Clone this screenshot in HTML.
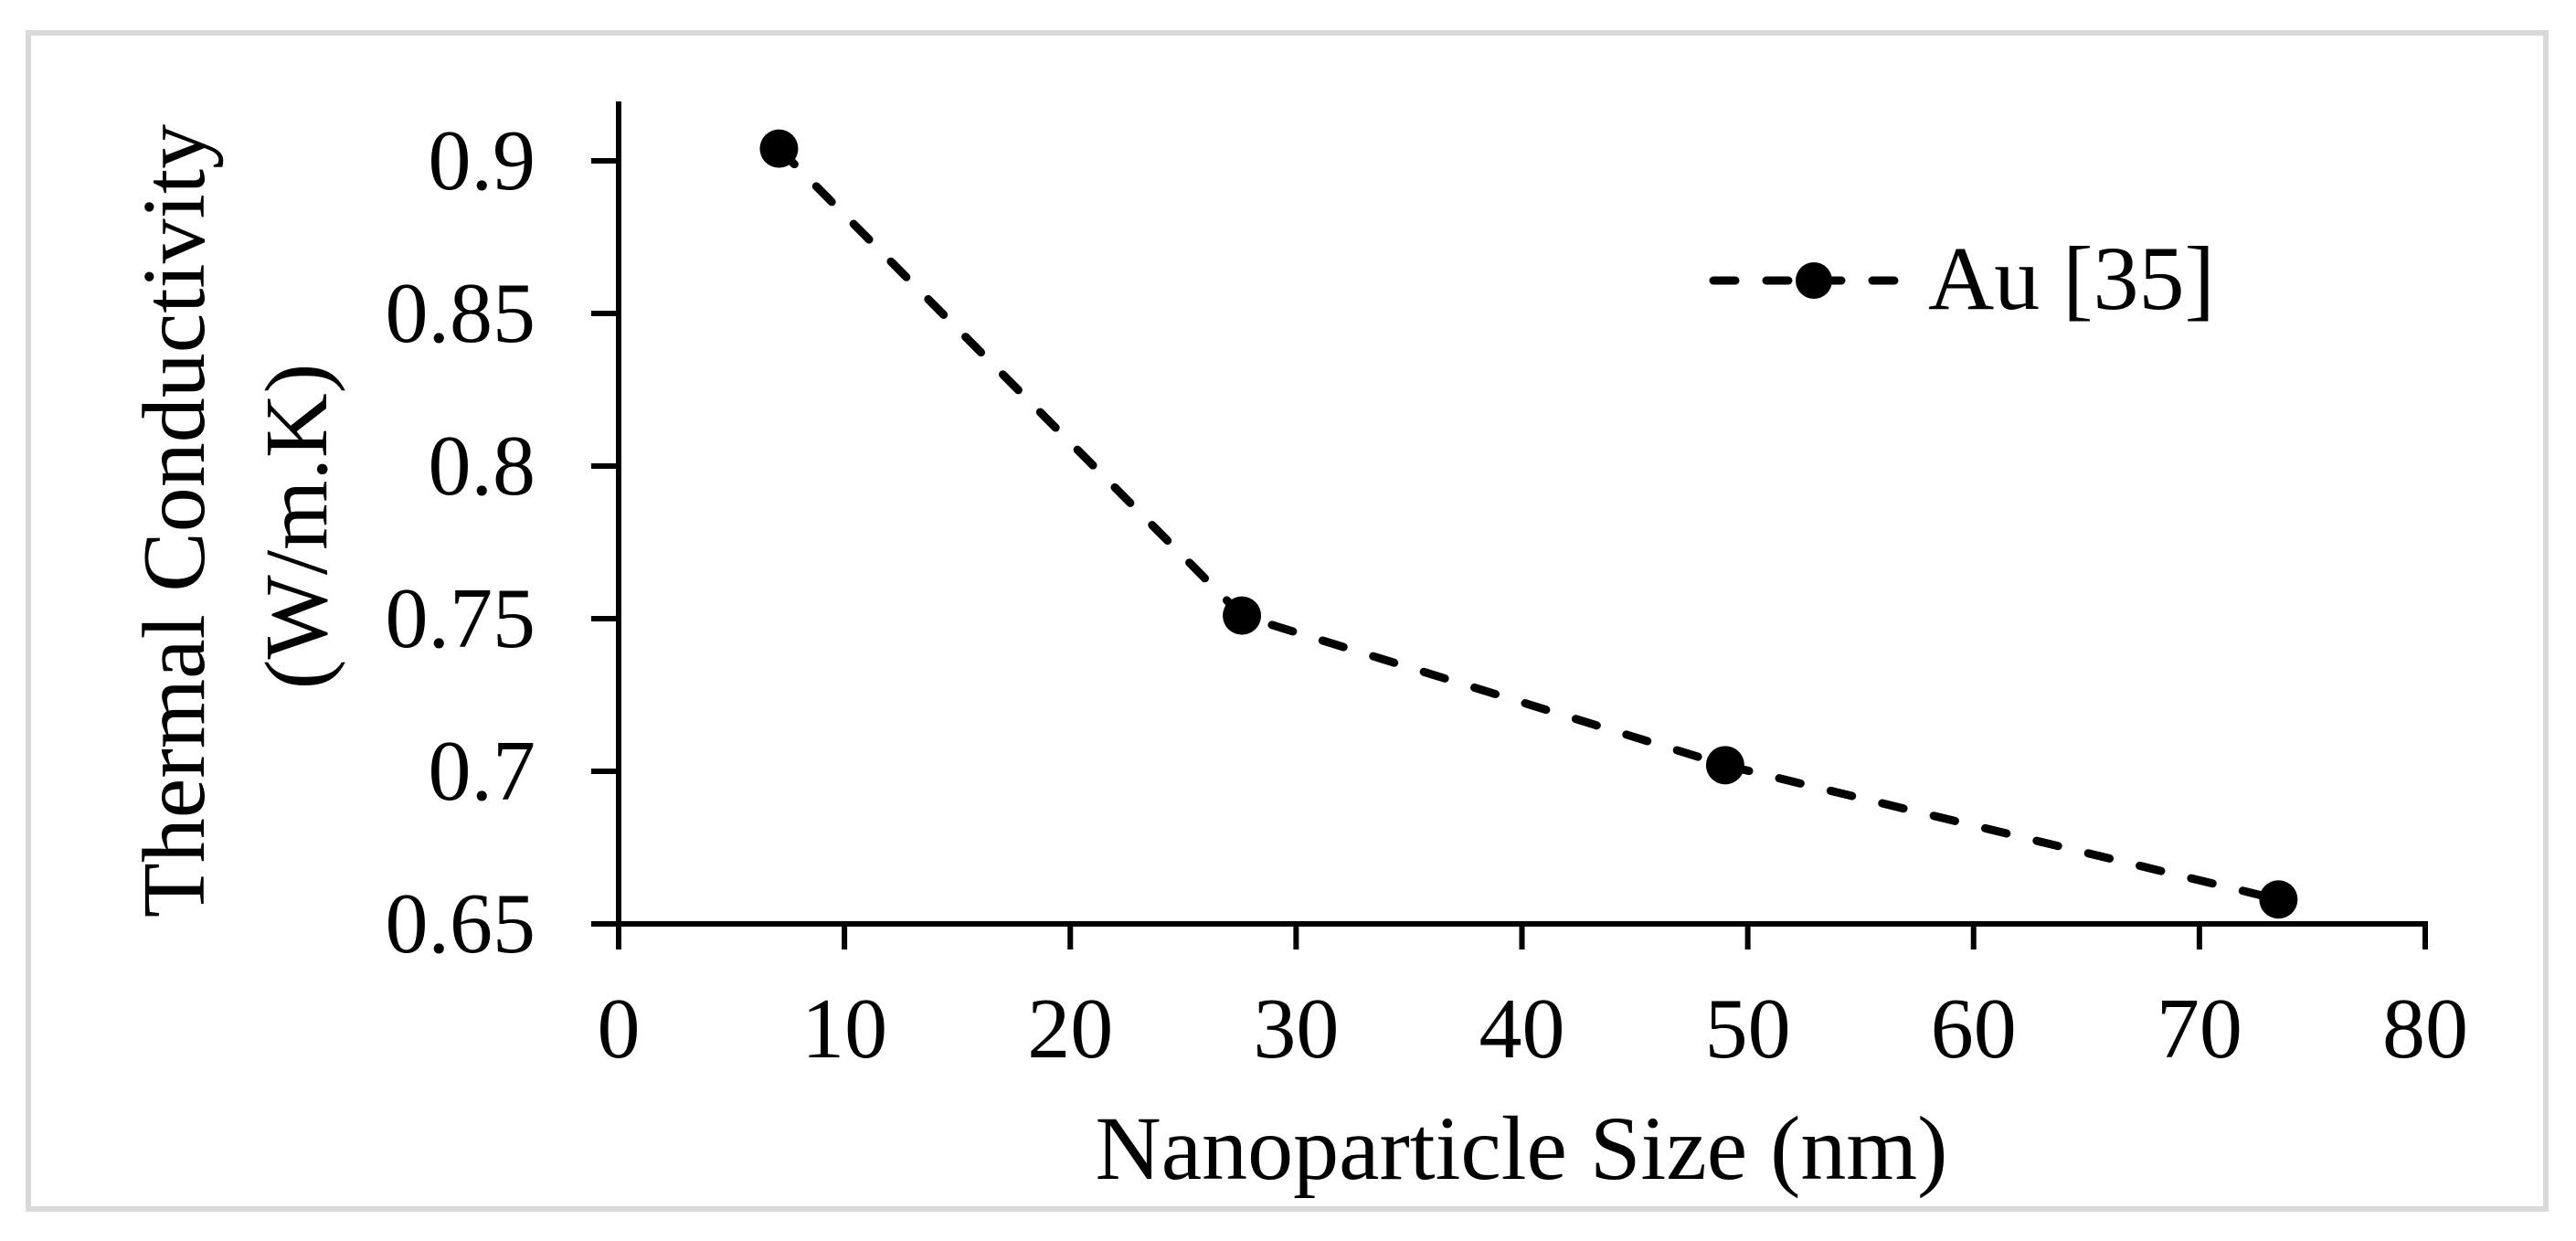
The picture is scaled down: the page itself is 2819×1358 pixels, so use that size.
<!DOCTYPE html>
<html><head><meta charset="utf-8"><style>
html,body{margin:0;padding:0;background:#fff;}
svg{display:block;font-family:"Liberation Serif",serif;}
</style></head><body>
<svg id="chart" width="2819" height="1358" viewBox="0 0 2819 1358">
<rect x="31" y="36" width="2755" height="1287" fill="#fff" stroke="#d9d9d9" stroke-width="6"/>
<g id="axes"></g>
<g id="series"></g>
<text x="191" y="570" transform="rotate(-90 191 570)" text-anchor="middle" dominant-baseline="central" font-size="98">Thermal Conductivity</text>
<text x="325" y="576" transform="rotate(-90 325 576)" text-anchor="middle" dominant-baseline="central" font-size="98">(W/m.K)</text>
<text x="1665" y="1290" text-anchor="middle" font-size="100">Nanoparticle Size (nm)</text>
<g>
<line x1="1875" y1="307" x2="2083" y2="307" stroke="#000" stroke-width="9" stroke-dasharray="24 34" stroke-linecap="round"/>
<circle cx="1985" cy="307" r="20" fill="#000"/>
<text x="2110" y="338" font-size="100">Au [35]</text>
</g>
</svg>
<script>
const xValues = [7.1, 27.6, 49.0, 73.5];
const yValues = [0.904, 0.751, 0.702, 0.658];
const xTicks = [0, 10, 20, 30, 40, 50, 60, 70, 80];
const yTicks = [0.65, 0.7, 0.75, 0.8, 0.85, 0.9];
const yTickLabels = ["0.65", "0.7", "0.75", "0.8", "0.85", "0.9"];

const NS = "http://www.w3.org/2000/svg";
const X0 = 677, X1 = 2654, Y0 = 1011, Y1 = 176;
function sx(v){ return X0 + (v - 0) / 80 * (X1 - X0); }
function sy(v){ return Y0 - (v - 0.65) / 0.25 * (Y0 - Y1); }
function mk(tag, attrs, parent){
  const e = document.createElementNS(NS, tag);
  for (const k in attrs) e.setAttribute(k, attrs[k]);
  parent.appendChild(e);
  return e;
}
const axes = document.getElementById('axes');
let yl = mk('line', {x1:X0, y1:111, x2:X0, y2:Y0+3, stroke:'#000', 'stroke-width':6}, axes);


let xl = mk('line', {x1:X0-30, y1:Y0, x2:X1+3, y2:Y0, stroke:'#000', 'stroke-width':6}, axes);


yTicks.forEach((t, i) => {
  const y = sy(t);
  const tk = mk('line', {x1:X0-30, y1:y, x2:X0, y2:y, stroke:'#000', 'stroke-width':6}, axes);
  
  
  const tx = mk('text', {x:586, y:y + 31, 'text-anchor':'end', 'font-size':94}, axes);
  tx.textContent = yTickLabels[i];
  
  
});
xTicks.forEach(t => {
  const x = sx(t);
  const tk = mk('line', {x1:x, y1:Y0, x2:x, y2:Y0+28, stroke:'#000', 'stroke-width':6}, axes);
  
  
  const tx = mk('text', {x:x, y:1157, 'text-anchor':'middle', 'font-size':94}, axes);
  tx.textContent = String(t);
  
  
});
const series = document.getElementById('series');
const pts = xValues.map((x, i) => sx(x) + ',' + sy(yValues[i])).join(' ');
const pl = mk('polyline', {points:pts, fill:'none', stroke:'#000', 'stroke-width':9, 'stroke-dasharray':'24 34', 'stroke-linecap':'round'}, series);


xValues.forEach((x, i) => {
  const c = mk('circle', {cx:sx(x), cy:sy(yValues[i]), r:21, fill:'#000'}, series);
  
  
});
</script>
</body></html>
